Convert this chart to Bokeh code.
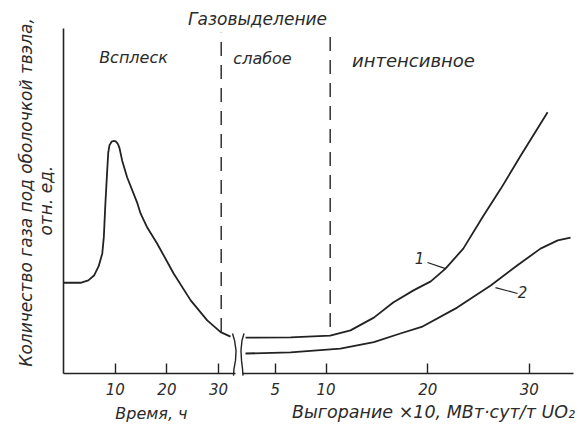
import math
from bokeh.plotting import figure
from bokeh.models import Range1d, LinearAxis, FixedTicker, Label
from bokeh.embed import file_html
from bokeh.resources import INLINE

# ---------------- data ----------------
# left part: gas amount vs time, h (burst)
time_h = [0, 3.3, 4.8, 5.9, 6.8, 7.5, 7.8, 8.1, 8.45, 8.65, 8.9, 9.3, 9.7, 10.1, 10.5, 10.8,
          11.35, 12.3, 14.3, 14.9, 16.2, 18.1, 21.3, 24.6, 27.8, 30.4, 32.3]
gas_time = [2.63, 2.63, 2.70, 2.84, 3.11, 3.48, 3.96, 4.93, 5.88, 6.40, 6.62, 6.72, 6.74,
            6.73, 6.66, 6.55, 6.17, 5.69, 4.93, 4.64, 4.23, 3.77, 2.90, 2.12, 1.54, 1.20, 1.07]

# right part: gas amount vs burnup x10, MW*day/t UO2
burnup_1 = [2.07, 6.5, 10.4, 12.4, 14.7, 16.6, 18.6, 20.3, 21.75, 23.5, 25.5, 27.2, 29.1, 31.8]
gas_1 = [1.04, 1.05, 1.10, 1.25, 1.62, 2.06, 2.41, 2.67, 3.04, 3.62, 4.58, 5.36, 6.29, 7.57]

burnup_2 = [2.07, 6.5, 11.4, 14.7, 17.3, 19.4, 22.9, 26.2, 28.8, 31.1, 32.8, 34.06]
gas_2 = [0.58, 0.61, 0.72, 0.91, 1.16, 1.35, 1.91, 2.55, 3.13, 3.62, 3.86, 3.94]

time_ticks = [10, 20, 30]
burnup_ticks = [5, 10, 20, 30]

# stage boundaries (dashed lines)
stage_time_boundary = 30.5      # h
stage_burnup_boundary = 10.4    # burnup x10

# axis-break marks
break_left_t = [32.69, 33.08, 33.37, 33.27, 32.98, 32.88]
break_left_y = [1.16, 0.96, 0.67, 0.38, 0.14, -0.06]
break_right_b = [1.92, 1.72, 1.62, 1.67, 1.77, 1.82]
break_right_y = [1.16, 0.96, 0.67, 0.38, 0.14, -0.06]

# curve labels with leader lines
leader1_b = [19.98, 21.75]
leader1_y = [3.22, 3.04]
leader2_b = [26.67, 28.84]
leader2_y = [2.49, 2.32]

# ---------------- figure ----------------
FONT = "DejaVu Sans"
INK = "#222222"
TXT = "#2b2b2b"

p = figure(width=585, height=430, output_backend="svg", toolbar_location=None,
           x_range=Range1d(-12.19, 100.97), y_range=Range1d(-1.652, 10.812),
           min_border_left=0, min_border_right=0, min_border_top=0, min_border_bottom=0,
           background_fill_color="white", border_fill_color="white")
p.extra_x_ranges = {"burnup": Range1d(-22.05, 35.53)}
p.outline_line_color = None
p.xgrid.visible = False
p.ygrid.visible = False


def style_x(ax):
    ax.axis_line_color = INK
    ax.axis_line_width = 1.6
    ax.major_tick_in = 10
    ax.major_tick_out = 0
    ax.major_tick_line_color = INK
    ax.major_tick_line_width = 1.4
    ax.minor_tick_line_color = None
    ax.major_label_text_font = FONT
    ax.major_label_text_font_style = "italic"
    ax.major_label_text_font_size = "15px"
    ax.major_label_text_color = TXT
    ax.major_label_standoff = 9


xa = p.xaxis[0]
xa.ticker = FixedTicker(ticks=time_ticks)
xa.bounds = (0, 33.3)
xa.fixed_location = 0
style_x(xa)

xb = LinearAxis(x_range_name="burnup", ticker=FixedTicker(ticks=burnup_ticks),
                bounds=(1.77, 34.3), fixed_location=0)
style_x(xb)
p.add_layout(xb, "below")

ya = p.yaxis[0]
ya.ticker = FixedTicker(ticks=[])
ya.bounds = (0, 10)
ya.fixed_location = 0
ya.major_tick_line_color = None
ya.minor_tick_line_color = None
ya.major_label_text_font_size = "0px"
ya.axis_line_color = INK
ya.axis_line_width = 1.6

# curves
p.line(time_h, gas_time, line_color=INK, line_width=1.8, line_join="round")
p.line(burnup_1, gas_1, x_range_name="burnup", line_color=INK, line_width=1.8, line_join="round")
p.line(burnup_2, gas_2, x_range_name="burnup", line_color=INK, line_width=1.8, line_join="round")

# stage boundaries
p.line([stage_time_boundary, stage_time_boundary], [1.2, 9.88],
       line_color=INK, line_width=1.4, line_dash="14 9")
p.line([stage_burnup_boundary, stage_burnup_boundary], [1.35, 9.88], x_range_name="burnup",
       line_color=INK, line_width=1.4, line_dash="14 9")

# axis break marks
p.line(break_left_t, break_left_y, line_color=INK, line_width=1.4)
p.line(break_right_b, break_right_y, x_range_name="burnup", line_color=INK, line_width=1.4)

# leader lines
p.line(leader1_b, leader1_y, x_range_name="burnup", line_color=INK, line_width=1.1)
p.line(leader2_b, leader2_y, x_range_name="burnup", line_color=INK, line_width=1.1)


def lab(text, x, y, size="16px", rng=None, angle=0.0):
    kw = dict(x=x, y=y, text=text, text_font=FONT, text_font_style="italic",
              text_font_size=size, text_color=TXT, text_align="center",
              text_baseline="middle", angle=angle)
    if rng:
        kw["x_range_name"] = rng
    p.add_layout(Label(**kw))


lab("Газовыделение", 3.25, 10.29, size="17px", rng="burnup")
lab("Всплеск", 13.54, 9.16)
lab("слабое", 3.74, 9.13, rng="burnup")
lab("интенсивное", 18.6, 9.07, size="18px", rng="burnup")
lab("1", 19.19, 3.36, size="15px", rng="burnup")
lab("2", 29.33, 2.35, size="15px", rng="burnup")
lab("Время, ч", 17.0, -1.16)
lab("Выгорание ×10, МВт·сут/т UO₂", 20.57, -1.13, size="17.5px", rng="burnup")
# y axis title (two lines)
lab("Количество газа под оболочкой твэла,", -7.35, 5.25, size="17px", angle=math.pi / 2)
lab("отн. ед.", -3.48, 5.01, size="17px", angle=math.pi / 2)

open("out.html", "w").write(file_html(p, INLINE))
